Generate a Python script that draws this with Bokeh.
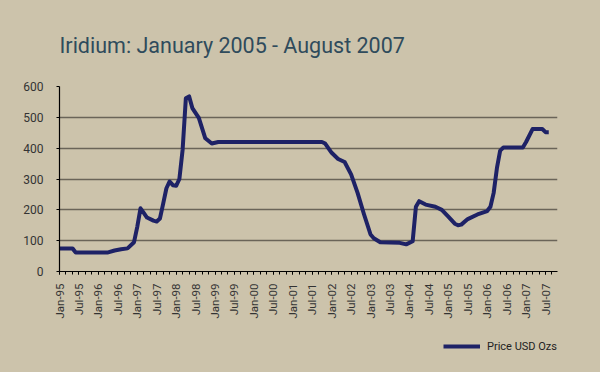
import math
from bokeh.plotting import figure
from bokeh.layouts import column
from bokeh.models import FixedTicker, Range1d, Legend, LegendItem
from bokeh.embed import file_html
from bokeh.resources import INLINE

# ---- data (month "YYYY-MM", price USD/oz) ----
dates = ["1995-01", "1995-05", "1995-06", "1996-04", "1996-06", "1996-08", "1996-10",
         "1996-12", "1997-01", "1997-02", "1997-03", "1997-04", "1997-06", "1997-07",
         "1997-08", "1997-09", "1997-10", "1997-11", "1997-12", "1998-01", "1998-02",
         "1998-03", "1998-04", "1998-05", "1998-06", "1998-08", "1998-10", "1998-12",
         "1999-02", "2001-10", "2001-11", "2002-01", "2002-03", "2002-05", "2002-07",
         "2002-09", "2002-11", "2003-01", "2003-02", "2003-04", "2003-10", "2003-12",
         "2004-02", "2004-03", "2004-04", "2004-06", "2004-09", "2004-11", "2005-01",
         "2005-03", "2005-04", "2005-05", "2005-07", "2005-10", "2006-01", "2006-02",
         "2006-03", "2006-04", "2006-05", "2006-06", "2006-12", "2007-01", "2007-03",
         "2007-06", "2007-07", "2007-08"]
prices = [75, 75, 62, 62, 68, 72, 75,
          95, 145, 205, 190, 175, 165, 162,
          172, 220, 270, 292, 280, 278, 300,
          395, 562, 568, 530, 498, 432, 415,
          420, 420, 415, 385, 365, 355, 315,
          255, 185, 120, 108, 95, 93, 88,
          98, 210, 228, 217, 210, 200, 178,
          155, 150, 152, 170, 185, 196, 210,
          255, 335, 392, 402, 402, 420, 462,
          462, 452, 452]

tick_labels = ["Jan-95", "Jul-95", "Jan-96", "Jul-96", "Jan-97", "Jul-97", "Jan-98",
               "Jul-98", "Jan-99", "Jul-99", "Jan-00", "Jul-00", "Jan-01", "Jul-01",
               "Jan-02", "Jul-02", "Jan-03", "Jul-03", "Jan-04", "Jul-04", "Jan-05",
               "Jul-05", "Jan-06", "Jul-06", "Jan-07", "Jul-07"]
y_ticks = [0, 100, 200, 300, 400, 500, 600]

title_text = "Iridium: January 2005 - August 2007"
series_name = "Price USD Ozs"


def month_index(s):
    y, m = s.split("-")
    return (int(y) - 1995) * 12 + int(m) - 1


x = [month_index(d) for d in dates]
tick_pos = [i * 6 for i in range(len(tick_labels))]

BG = "#ccc3ab"
FONT = "Roboto"
LINE = "#1e2266"

p = figure(width=600, height=335,
           output_backend="svg", toolbar_location=None,
           x_range=Range1d(0, 153.7), y_range=Range1d(0, 600),
           background_fill_color=BG, border_fill_color=BG,
           min_border_left=59, min_border_right=43, min_border_top=86,
           min_border_bottom=64)
p.outline_line_color = None

p.title.text = title_text
p.title.text_font = FONT
p.title.text_font_size = "21.5px"
p.title.text_font_style = "normal"
p.title.text_color = "#2f4b5c"
p.title.align = "left"
p.title.standoff = 58

p.line(x, prices, line_color=LINE, line_width=4, line_join="round")

# axes
p.xaxis.ticker = FixedTicker(ticks=tick_pos, minor_ticks=list(range(0, 154, 2)))
p.xaxis.major_label_overrides = {t: l for t, l in zip(tick_pos, tick_labels)}
p.xaxis.major_label_orientation = math.pi / 2
p.yaxis.ticker = FixedTicker(ticks=y_ticks)

for ax in (p.xaxis[0], p.yaxis[0]):
    ax.axis_line_color = "black"
    ax.axis_line_width = 1.2
    ax.major_tick_line_color = "black"
    ax.minor_tick_line_color = "black"
    ax.major_tick_in = 0
    ax.minor_tick_in = 0
    ax.major_label_text_font = FONT
    ax.major_label_text_color = "#333333"

p.xaxis.major_label_text_font_size = "11.5px"
p.yaxis.major_label_text_font_size = "12px"
p.xaxis.major_tick_out = 3
p.xaxis.minor_tick_out = 3
p.xaxis.major_label_standoff = 9
p.yaxis.major_tick_out = 3
p.yaxis.minor_tick_line_color = None
p.yaxis.major_label_standoff = 13

p.xgrid.grid_line_color = None
p.ygrid.grid_line_color = "#6a6458"
p.ygrid.grid_line_width = 1.5

# legend strip below the chart (holds the series key)
p2 = figure(width=600, height=37, output_backend="svg", toolbar_location=None,
            x_axis_type=None, y_axis_type=None, min_border=0,
            background_fill_color=BG, border_fill_color=BG)
p2.outline_line_color = None
key = p2.line(x, prices, line_color=LINE, line_width=4, visible=False)

legend = Legend(items=[LegendItem(label=series_name, renderers=[key])],
                location=(384, 16), border_line_color=None,
                background_fill_alpha=0, padding=0, margin=0,
                inactive_fill_alpha=0,
                glyph_width=37, glyph_height=20, label_height=20,
                label_standoff=7,
                label_text_font=FONT, label_text_font_size="11px",
                label_text_color="#222222")
p2.add_layout(legend, "center")

layout = column(p, p2, spacing=0)

html = file_html(layout, INLINE)
html = html.replace("</head>",
                    "<style>html, body { background-color: %s; }</style></head>" % BG, 1)
open("out.html", "w").write(html)
